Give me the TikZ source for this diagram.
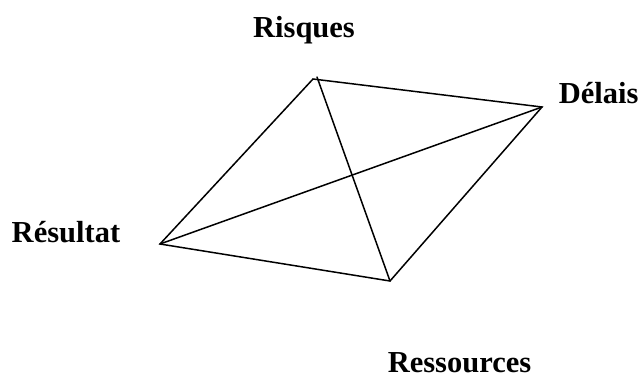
\documentclass[tikz,border=0pt]{standalone}
\usepackage{fontspec}
\setmainfont{Liberation Serif}
\tikzstyle{every node}=[font=\fontsize{30.5}{36}\selectfont\bfseries, inner sep=0pt]
\tikzstyle{every path}=[line width=1.5pt, line cap=round, line join=miter]

\begin{document}
\begin{tikzpicture}[x=1pt, y=-1pt]
  \useasboundingbox (0,0) rectangle (644,381);

  % Corners
  \coordinate (risques) at (313,79);
  \coordinate (delais) at (542,107);
  \coordinate (resultat) at (160,244);
  \coordinate (ressources) at (390,281);
  \coordinate (risquesdiag) at (317,77);

  % Outline
  \draw (risques) -- (delais) -- (ressources) -- (resultat) -- cycle;

  % Diagonals
  \draw (risquesdiag) -- (ressources);
  \draw (resultat) -- (delais);

  % Labels
  \node[anchor=base] (lrisques) at (304,37) {Risques};
  \node[anchor=base west] (ldelais) at (558,103) {Délais};
  \node[anchor=base west] (lresultat) at (11,242) {Résultat};
  \node[anchor=base west] (lressources) at (387,372) {Ressources};
\end{tikzpicture}
\end{document}
